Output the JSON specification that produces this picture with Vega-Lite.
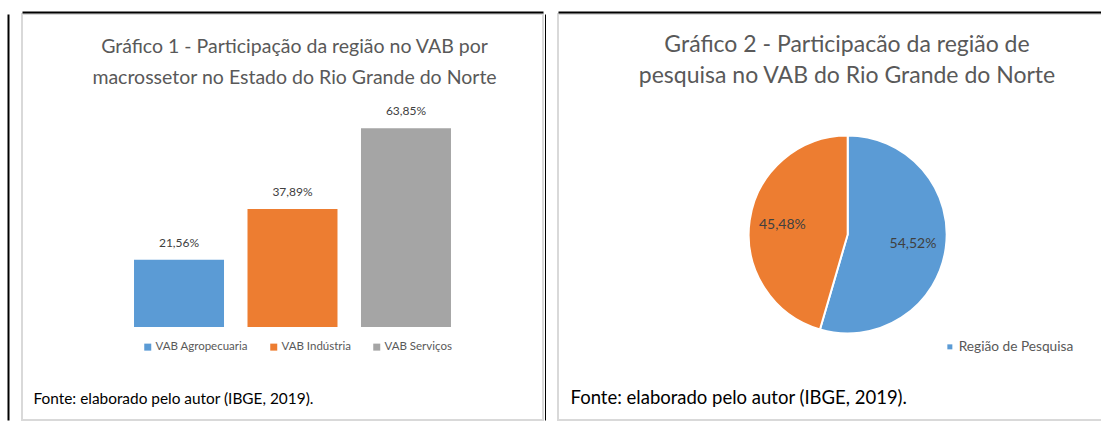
{
  "$schema": "https://vega.github.io/schema/vega-lite/v6.json",
  "background": "white",
  "padding": {"left": 7, "top": 11, "right": 0, "bottom": 0},
  "spacing": 0,
  "resolve": {"scale": {"color": "independent"}, "legend": {"color": "independent"}},
  "config": {
    "view": {"stroke": "#d9d9d9", "strokeWidth": 2},
    "font": "Lato",
    "locale": {"number": {"decimal": ",", "thousands": ".", "grouping": [3], "currency": ["R$", ""]}}
  },
  "hconcat": [
    {
      "width": 521,
      "height": 406,
      "title": {
        "text": ["Gráfico 1 - Participação da região no VAB por", "macrossetor no Estado do Rio Grande do Norte"],
        "frame": "group",
        "anchor": "middle",
        "offset": -76,
        "dx": 12,
        "fontSize": 19.5,
        "lineHeight": 31,
        "font": "Lato",
        "fontWeight": "normal",
        "color": "#595959"
      },
      "data": {"values": [
        {"setor": "VAB Agropecuaria", "part": 0.2156},
        {"setor": "VAB Indústria", "part": 0.3789},
        {"setor": "VAB Serviços", "part": 0.6385}
      ]},
      "encoding": {
        "x": {
          "field": "setor", "type": "nominal", "sort": null,
          "scale": {"paddingInner": 0.207, "paddingOuter": 0.899, "align": 0.549},
          "axis": {"orient": "top", "offset": 2, "domainColor": "#000000", "domainWidth": 2, "ticks": false, "labels": false, "title": null, "grid": false}
        },
        "y": {
          "field": "part", "type": "quantitative",
          "scale": {"domain": [-0.2986, 1.005], "nice": false, "zero": true},
          "axis": {
            "orient": "left", "offset": 14, "domainColor": "#000000", "domainWidth": 2,
            "ticks": false, "labels": false, "grid": false,
            "title": "Fonte: elaborado pelo autor (IBGE, 2019).",
            "titleAngle": 0, "titleAlign": "left", "titleBaseline": "middle",
            "titleX": 25, "titleY": 384,
            "titleFont": "Lato", "titleFontSize": 15.4, "titleFontWeight": "normal", "titleColor": "#000000"
          }
        }
      },
      "layer": [
        {
          "mark": {"type": "bar"},
          "encoding": {
            "color": {
              "field": "setor", "type": "nominal", "sort": null,
              "scale": {"domain": ["VAB Agropecuaria", "VAB Indústria", "VAB Serviços"], "range": ["#5B9BD5", "#ED7D31", "#A5A5A5"]},
              "legend": {
                "orient": "none", "legendX": 120, "legendY": 327, "direction": "horizontal",
                "title": null, "symbolType": "square", "symbolSize": 49, "symbolStrokeWidth": 0,
                "labelFont": "Lato", "labelFontSize": 11.5, "labelColor": "#595959",
                "columnPadding": 20, "labelOffset": 2, "padding": 0
              }
            }
          }
        },
        {
          "mark": {"type": "text", "dy": -17, "font": "Lato", "fontSize": 12, "color": "#404040"},
          "encoding": {"text": {"field": "part", "type": "quantitative", "format": ".2%"}}
        }
      ]
    },
    {
      "width": 544,
      "height": 406,
      "title": {
        "text": ["Gráfico 2 - Participacão da região de", "pesquisa no VAB do Rio Grande do Norte"],
        "frame": "group",
        "anchor": "middle",
        "offset": -76,
        "dx": 17,
        "fontSize": 23,
        "lineHeight": 31,
        "font": "Lato",
        "fontWeight": "normal",
        "color": "#595959"
      },
      "data": {"values": [
        {"regiao": "Região de Pesquisa", "part": 0.5452, "ordem": 1},
        {"regiao": "Demais regiões", "part": 0.4548, "ordem": 2}
      ]},
      "encoding": {
        "theta": {"field": "part", "type": "quantitative", "stack": true},
        "order": {"field": "ordem", "type": "quantitative"},
        "x": {
          "datum": 0.5325, "type": "quantitative",
          "scale": {"domain": [0, 1], "nice": false, "zero": false},
          "axis": {"orient": "top", "offset": 2, "domainColor": "#000000", "domainWidth": 2, "ticks": false, "labels": false, "title": null, "grid": false}
        },
        "y": {
          "datum": 0.457, "type": "quantitative",
          "scale": {"domain": [0, 1], "nice": false, "zero": false},
          "axis": {
            "orient": "left", "offset": 13, "domainColor": "#000000", "domainWidth": 1,
            "ticks": false, "labels": false, "grid": false,
            "title": "Fonte: elaborado pelo autor (IBGE, 2019).",
            "titleAngle": 0, "titleAlign": "left", "titleBaseline": "middle",
            "titleX": 25, "titleY": 383,
            "titleFont": "Lato", "titleFontSize": 18.5, "titleFontWeight": "normal", "titleColor": "#000000"
          }
        }
      },
      "layer": [
        {
          "mark": {"type": "arc", "radius": 99, "stroke": "#ffffff", "strokeWidth": 2},
          "encoding": {
            "color": {
              "field": "regiao", "type": "nominal",
              "scale": {"domain": ["Região de Pesquisa", "Demais regiões"], "range": ["#5B9BD5", "#ED7D31"]},
              "legend": {
                "orient": "none", "legendX": 385, "legendY": 326, "values": ["Região de Pesquisa"],
                "title": null, "symbolType": "square", "symbolSize": 25, "symbolStrokeWidth": 0,
                "labelFont": "Lato", "labelFontSize": 13.7, "labelColor": "#595959", "labelOffset": 2, "padding": 0
              }
            }
          }
        },
        {
          "mark": {"type": "text", "radius": 66, "font": "Lato", "fontSize": 14, "color": "#404040"},
          "encoding": {"text": {"field": "part", "type": "quantitative", "format": ".2%"}}
        }
      ]
    }
  ]
}
